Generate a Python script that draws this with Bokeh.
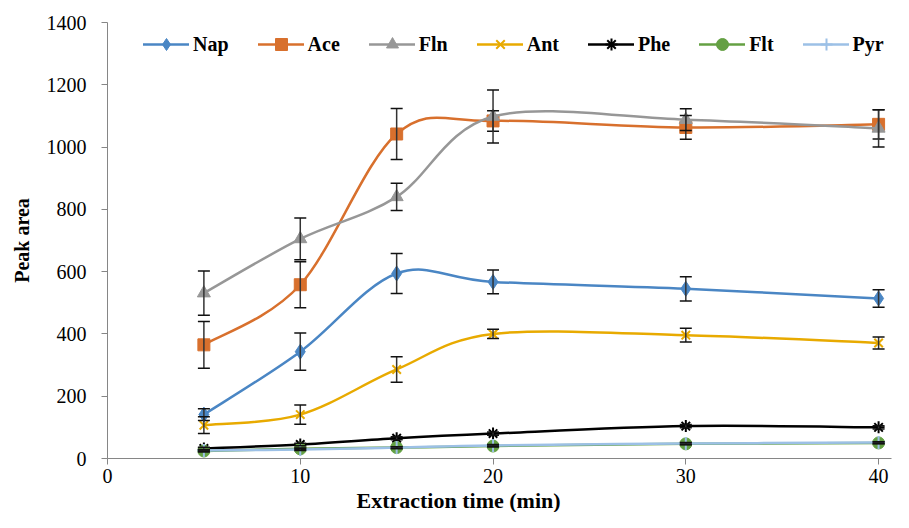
from bokeh.plotting import figure
from bokeh.models import (ColumnDataSource, Whisker, TeeHead, Legend, LegendItem,
                          FixedTicker, Title, Range1d)
from bokeh.embed import file_html
from bokeh.resources import INLINE

# ---------------- data ----------------
times = [5, 10, 15, 20, 30, 40]

nap = [141, 343, 594, 567, 545, 514]
nap_err = [19, 60, 64, 38, 39, 28]
ace = [365, 558, 1042, 1084, 1063, 1073]
ace_err = [75, 74, 82, 33, 38, 47]
fln = [531, 705, 840, 1098, 1088, 1060]
fln_err = [71, 67, 44, 85, 35, 60]
ant = [107, 141, 286, 400, 396, 371]
ant_err = [27, 31, 41, 15, 22, 19]
phe = [32, 45, 65, 80, 104, 100]
phe_err = [4, 4, 5, 5, 5, 5]
flt = [24, 31, 35, 40, 47, 50]
flt_err = [3, 3, 3, 3, 3, 3]
pyr = [26, 29, 35, 42, 48, 51]
pyr_err = [3, 3, 3, 3, 3, 3]

names = ["Nap", "Ace", "Fln", "Ant", "Phe", "Flt", "Pyr"]
values = [nap, ace, fln, ant, phe, flt, pyr]
errors = [nap_err, ace_err, fln_err, ant_err, phe_err, flt_err, pyr_err]

x_ticks = [0, 10, 20, 30, 40]
y_ticks = [0, 200, 400, 600, 800, 1000, 1200, 1400]

# ---------------- styles ----------------
colors = ["#4a86c4", "#d8702d", "#979797", "#e8aa00", "#000000", "#64a043", "#9cc0e6"]
markers = ["diamond", "square", "triangle", "x", "asterisk", "circle", "cross"]
sizes = [15, 12, 13, 12, 12, 12, 13]

FONT = "Liberation Serif"

p = figure(width=893, height=512, output_backend="svg", toolbar_location=None,
           x_range=Range1d(0, 40.67), y_range=Range1d(0, 1400),
           min_border_left=107, min_border_right=2, min_border_top=22,
           min_border_bottom=30)
p.outline_line_color = None
p.xgrid.visible = False
p.ygrid.visible = False
p.background_fill_color = "white"
p.border_fill_color = "white"

for ax in (p.xaxis[0], p.yaxis[0]):
    ax.axis_line_color = "#868686"
    ax.major_tick_line_color = "#868686"
    ax.major_tick_out = 6
    ax.major_tick_in = 0
    ax.minor_tick_line_color = None
    ax.major_label_text_font = FONT
    ax.major_label_text_font_size = "20px"
    ax.major_label_text_color = "black"

p.xaxis.ticker = FixedTicker(ticks=x_ticks)
p.yaxis.ticker = FixedTicker(ticks=y_ticks)
p.xaxis.major_label_standoff = 4
p.yaxis.major_label_standoff = 15

p.yaxis.axis_label = "Peak area"
p.yaxis.axis_label_text_font = FONT
p.yaxis.axis_label_text_font_style = "bold"
p.yaxis.axis_label_text_font_size = "20px"
p.yaxis.axis_label_text_color = "black"
p.yaxis.axis_label_standoff = 11

xtitle = Title(text="Extraction time (min)", align="left", offset=249, standoff=0,
               text_font=FONT, text_font_style="bold", text_font_size="22px",
               text_color="black")
p.add_layout(xtitle, "below")


def bezier_segments(xs, ys):
    """Excel-like smoothed line: Catmull-Rom converted to cubic Bezier segments."""
    n = len(xs)
    out = dict(x0=[], y0=[], x1=[], y1=[], cx0=[], cy0=[], cx1=[], cy1=[])
    for i in range(n - 1):
        im = max(i - 1, 0)
        ip = min(i + 2, n - 1)
        out["x0"].append(xs[i]); out["y0"].append(ys[i])
        out["x1"].append(xs[i + 1]); out["y1"].append(ys[i + 1])
        out["cx0"].append(xs[i] + (xs[i + 1] - xs[im]) / 6.0)
        out["cy0"].append(ys[i] + (ys[i + 1] - ys[im]) / 6.0)
        out["cx1"].append(xs[i + 1] - (xs[ip] - xs[i]) / 6.0)
        out["cy1"].append(ys[i + 1] - (ys[ip] - ys[i]) / 6.0)
    return out


items = []
for name, vals, errs, col, mk, sz in zip(names, values, errors, colors, markers, sizes):
    seg = ColumnDataSource(bezier_segments(times, vals))
    ln = p.bezier(x0="x0", y0="y0", x1="x1", y1="y1", cx0="cx0", cy0="cy0",
                  cx1="cx1", cy1="cy1", source=seg, line_color=col, line_width=2.5,
                  line_cap="round")
    src = ColumnDataSource(dict(t=times, v=vals,
                                lo=[v - e for v, e in zip(vals, errs)],
                                hi=[v + e for v, e in zip(vals, errs)]))
    lw = 2.0 if mk in ("x", "asterisk", "cross") else 1.0
    sc = p.scatter(x="t", y="v", source=src, marker=mk, size=sz,
                   fill_color=col, line_color=col, line_width=lw)
    wk = Whisker(base="t", upper="hi", lower="lo", source=src, dimension="height",
                 line_color="#333333", line_width=1.5, level="overlay",
                 upper_head=TeeHead(size=12, line_color="#111111", line_width=1.5),
                 lower_head=TeeHead(size=12, line_color="#111111", line_width=1.5))
    p.add_layout(wk)
    items.append(LegendItem(label=name, renderers=[ln, sc], index=0))

legend = Legend(items=items, orientation="horizontal", location=(36, 399),
                glyph_width=46, glyph_height=30, label_standoff=4, spacing=29,
                padding=0, margin=0, border_line_alpha=0, background_fill_alpha=0,
                label_text_font=FONT, label_text_font_style="bold",
                label_text_font_size="20px", label_text_color="black")
p.add_layout(legend)

open("out.html", "w").write(file_html(p, INLINE))
